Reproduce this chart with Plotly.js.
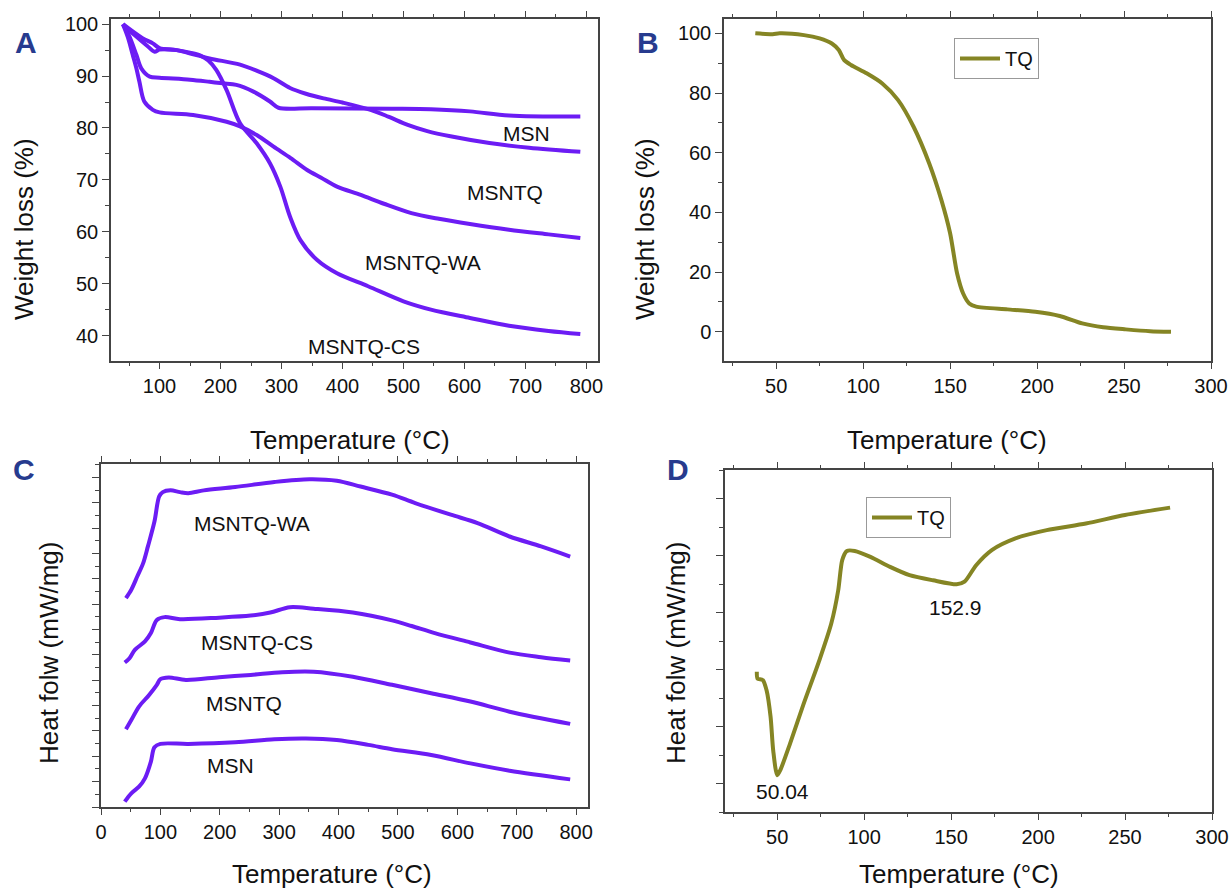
<!DOCTYPE html>
<html>
<head>
<meta charset="utf-8">
<script src="https://cdn.plot.ly/plotly-3.0.1.min.js"></script>
<style>html,body{margin:0;padding:0;background:#fff;}#plot{width:1230px;height:892px;}</style>
</head>
<body>
<div id="plot"></div>
<script>
// ---- Panel A: TGA of nanoparticles ----
const aMsnX = [40, 50, 62, 70, 84, 100, 150, 182, 204, 226, 254, 281, 295, 350, 480, 545, 609, 673, 790];
const aMsnY = [100, 97.8, 94.1, 91.5, 89.9, 89.7, 89.3, 88.9, 88.6, 88.3, 87.0, 85.1, 83.9, 83.8, 83.7, 83.6, 83.2, 82.4, 82.2];
const aMsntqX = [40, 60, 80, 92, 100, 128, 149, 182, 232, 260, 287, 314, 340, 369, 400, 446, 475, 507, 539, 577, 641, 706, 790];
const aMsntqY = [100, 97.8, 95.8, 94.7, 95.1, 95.0, 94.4, 93.4, 92.2, 91.0, 89.6, 87.7, 86.6, 85.7, 84.9, 83.5, 82.2, 80.6, 79.4, 78.4, 77.1, 76.2, 75.4];
const aWaX = [40, 48, 56, 62, 67, 75, 89, 100, 155, 210, 232, 260, 287, 315, 342, 365, 391, 430, 468, 513, 558, 609, 673, 738, 790];
const aWaY = [100, 97.5, 94.1, 91.5, 88.9, 85.1, 83.5, 83.0, 82.5, 81.2, 80.3, 78.6, 76.4, 74.2, 71.9, 70.4, 68.7, 67.1, 65.4, 63.6, 62.5, 61.5, 60.4, 59.5, 58.8];
const aCsX = [40, 72, 89, 100, 128, 150, 168, 180, 193, 210, 232, 259, 281, 298, 314, 331, 358, 391, 442, 500, 545, 609, 673, 738, 790];
const aCsY = [100, 97.3, 96.3, 95.4, 95.0, 94.5, 93.9, 93.0, 91.2, 87.3, 80.9, 77.1, 73.2, 68.7, 62.9, 58.4, 54.6, 52.0, 49.5, 46.6, 45.0, 43.4, 41.9, 40.9, 40.3];

// ---- Panel B: TGA of TQ ----
const bTqX = [38, 48, 52, 66, 75, 82, 86, 89, 93, 102, 111, 120, 129, 138, 145, 150, 154, 157.5, 161, 165, 183, 199, 213, 226, 238, 251, 265, 277];
const bTqY = [100, 99.7, 100, 99.4, 98.3, 96.6, 94.4, 91.1, 89.4, 86.6, 83.2, 77.7, 68.7, 56.4, 44.1, 33, 19.6, 12.8, 9.5, 8.4, 7.5, 6.7, 5.3, 2.8, 1.5, 0.8, 0.2, 0];

// ---- Panel C: DSC of nanoparticles (arbitrary offset units) ----
const cMsnX = [40, 51, 64, 74, 84, 90, 100, 147, 226, 292, 345, 397, 450, 490, 556, 622, 688, 790];
const cMsnY = [0.21, 0.54, 0.8, 1.13, 1.79, 2.36, 2.49, 2.49, 2.55, 2.67, 2.70, 2.64, 2.45, 2.28, 2.05, 1.72, 1.43, 1.09];
const cMsntqX = [42, 51, 64, 81, 94, 100, 114, 143, 199, 252, 305, 358, 424, 490, 556, 622, 688, 790];
const cMsntqY = [3.07, 3.43, 3.96, 4.42, 4.82, 5.04, 5.11, 5.01, 5.12, 5.21, 5.32, 5.34, 5.14, 4.82, 4.49, 4.16, 3.76, 3.28];
const cCsX = [40, 48, 57, 74, 84, 94, 107, 133, 199, 252, 285, 318, 358, 424, 490, 523, 562, 622, 688, 741, 790];
const cCsY = [5.70, 5.87, 6.2, 6.53, 6.86, 7.38, 7.49, 7.41, 7.47, 7.55, 7.67, 7.88, 7.82, 7.67, 7.36, 7.14, 6.86, 6.49, 6.09, 5.91, 5.78];
const cWaX = [42, 51, 61, 71, 79, 90, 98, 104, 117, 133, 147, 173, 226, 292, 351, 397, 437, 490, 529, 589, 634, 688, 741, 790];
const cWaY = [8.24, 8.57, 9.09, 9.62, 10.28, 11.26, 12.25, 12.42, 12.49, 12.42, 12.38, 12.49, 12.62, 12.82, 12.93, 12.87, 12.64, 12.32, 11.99, 11.53, 11.2, 10.67, 10.28, 9.88];

// ---- Panel D: DSC of TQ ----
const dTqX = [38.3, 38.7, 41.7, 43.9, 46.2, 47.7, 50, 51.8, 57.4, 65.3, 74.3, 81.1, 85.1, 87.4, 90.1, 94.6, 103.6, 114.9, 126.1, 139.6, 153.2, 157.7, 164.4, 173.4, 187, 205, 227.5, 250, 275.9];
const dTqY = [3.92, 3.68, 3.63, 3.27, 2.34, 1.17, 0.29, 0.47, 1.40, 2.81, 4.33, 5.61, 6.78, 7.84, 8.16, 8.16, 7.95, 7.60, 7.31, 7.13, 6.99, 7.08, 7.66, 8.19, 8.60, 8.89, 9.12, 9.42, 9.68];

// ---- Labels ----
const sampleNames = ['MSN', 'MSNTQ', 'MSNTQ-WA', 'MSNTQ-CS'];
const aLabelX = [702, 667, 532, 435];
const aLabelY = [79, 67.6, 54, 37.9];
const cLabelX = [218, 240, 255, 262];
const cLabelY = [1.62, 4.09, 11.17, 6.49];
const peakLabels = ['50.04', '152.9'];
const peakX = [52.9, 152.7];
const peakY = [-0.29, 6.18];
const xTitle = 'Temperature (°C)';
const yTitleTGA = 'Weight loss (%)';
const yTitleDSC = 'Heat folw (mW/mg)';
const panelLetters = ['A', 'B', 'C', 'D'];

const PURPLE = '#6c1cf4';
const OLIVE = '#858524';
const FONT = 'Liberation Sans, Arial, sans-serif';
const AXC = '#444';

function tr(x, y, xa, ya, color, name, smooth, legend, show) {
  return {x: x, y: y, xaxis: xa, yaxis: ya, type: 'scatter', mode: 'lines', name: name,
    line: {color: color, width: 4, shape: 'spline', smoothing: smooth},
    showlegend: !!show, legend: legend || 'legend', hoverinfo: 'x+y+name'};
}

const data = [
  tr(aMsnX, aMsnY, 'x', 'y', PURPLE, 'MSN', 0.9),
  tr(aMsntqX, aMsntqY, 'x', 'y', PURPLE, 'MSNTQ', 0.9),
  tr(aWaX, aWaY, 'x', 'y', PURPLE, 'MSNTQ-WA', 0.9),
  tr(aCsX, aCsY, 'x', 'y', PURPLE, 'MSNTQ-CS', 0.9),
  tr(bTqX, bTqY, 'x2', 'y2', OLIVE, 'TQ', 0.7, 'legend', true),
  tr(cMsnX, cMsnY, 'x3', 'y3', PURPLE, 'MSN', 0.9),
  tr(cMsntqX, cMsntqY, 'x3', 'y3', PURPLE, 'MSNTQ', 0.9),
  tr(cCsX, cCsY, 'x3', 'y3', PURPLE, 'MSNTQ-CS', 0.9),
  tr(cWaX, cWaY, 'x3', 'y3', PURPLE, 'MSNTQ-WA', 0.9),
  tr(dTqX, dTqY, 'x4', 'y4', OLIVE, 'TQ', 0.7, 'legend2', true)
];

function W(px) { return px / 1230; }
function H(py) { return 1 - py / 892; }

function xax(l, r, range, dtick, minor, anchor) {
  return {domain: [W(l), W(r)], range: range, anchor: anchor, dtick: dtick, tick0: 0,
    showgrid: false, zeroline: false, showline: true, linecolor: AXC, linewidth: 1.5,
    mirror: 'ticks', ticks: 'outside', ticklen: 6, tickwidth: 1.2, tickcolor: AXC,
    minor: {dtick: minor, tick0: 0, ticks: 'outside', ticklen: 3.5, tickwidth: 1, tickcolor: AXC, showgrid: false},
    tickfont: {family: FONT, size: 20, color: '#111'}, fixedrange: true};
}
function yax(b, t, range, dtick, minor, anchor, labels, tick0) {
  return {domain: [H(b), H(t)], range: range, anchor: anchor, dtick: dtick, tick0: tick0 || 0,
    showgrid: false, zeroline: false, showline: true, linecolor: AXC, linewidth: 1.5,
    mirror: true, ticks: 'outside', ticklen: 7, tickwidth: 1.2, tickcolor: AXC,
    minor: {dtick: minor, tick0: tick0 || 0, ticks: 'outside', ticklen: 4, tickwidth: 1, tickcolor: AXC, showgrid: false},
    showticklabels: labels, tickfont: {family: FONT, size: 20, color: '#111'}, fixedrange: true};
}

const annotations = [];
function ann(text, x, y, xref, yref, opts) {
  annotations.push(Object.assign({text: text, x: x, y: y, xref: xref, yref: yref, showarrow: false,
    font: {family: FONT, size: 21, color: '#111'}, xanchor: 'center', yanchor: 'middle'}, opts || {}));
}
sampleNames.forEach((n, i) => ann(n, aLabelX[i], aLabelY[i], 'x', 'y'));
sampleNames.forEach((n, i) => ann(n, cLabelX[i], cLabelY[i], 'x3', 'y3'));
peakLabels.forEach((n, i) => ann(n, peakX[i], peakY[i], 'x4', 'y4'));
// axis titles
const titleFont = {family: FONT, size: 26, color: '#111'};
ann(xTitle, W(350), H(440), 'paper', 'paper', {font: titleFont});
ann(xTitle, W(947), H(440), 'paper', 'paper', {font: titleFont});
ann(xTitle, W(332), H(891), 'paper', 'paper', {font: titleFont, yanchor: 'bottom'});
ann(xTitle, W(959), H(891), 'paper', 'paper', {font: titleFont, yanchor: 'bottom'});
ann(yTitleTGA, W(24), H(229), 'paper', 'paper', {font: titleFont, textangle: -90});
ann(yTitleTGA, W(645), H(229), 'paper', 'paper', {font: titleFont, textangle: -90});
ann(yTitleDSC, W(49), H(653), 'paper', 'paper', {font: titleFont, textangle: -90});
ann(yTitleDSC, W(676), H(653), 'paper', 'paper', {font: titleFont, textangle: -90});
// panel letters
const letterFont = {family: FONT, size: 30, color: '#273b8e', weight: 'bold'};
const letterPos = [[26, 43], [648, 42], [24, 470], [678, 470]];
panelLetters.forEach((l, i) => ann('<b>' + l + '</b>', W(letterPos[i][0]), H(letterPos[i][1]), 'paper', 'paper', {font: letterFont}));

const layout = {
  width: 1230, height: 892,
  margin: {l: 0, r: 0, t: 0, b: 0},
  paper_bgcolor: '#fff', plot_bgcolor: '#fff',
  font: {family: FONT, color: '#111'},
  xaxis: xax(111, 598, [20.4, 819], 100, 50, 'y'),
  yaxis: yax(361, 19, [35.1, 101], 10, 5, 'x', true),
  xaxis2: xax(724, 1211, [20, 300], 50, 25, 'y2'),
  yaxis2: yax(361, 19, [-9.8, 104.8], 20, 10, 'x2', true),
  xaxis3: xax(101, 588, [0, 820], 100, 50, 'y3'),
  yaxis3: yax(807, 464, [0, 13.53], 1, 0.5, 'x3', false),
  xaxis4: xax(725, 1212, [20, 300], 50, 25, 'y4'),
  yaxis4: yax(812, 470, [-1, 11], 2, 1, 'x4', false),
  legend: {x: W(954), y: H(38), xanchor: 'left', yanchor: 'top', bgcolor: '#fff', bordercolor: '#999', borderwidth: 1,
    font: {family: FONT, size: 20, color: '#111'}, itemwidth: 40},
  legend2: {x: W(866), y: H(497), xanchor: 'left', yanchor: 'top', bgcolor: '#fff', bordercolor: '#999', borderwidth: 1,
    font: {family: FONT, size: 20, color: '#111'}, itemwidth: 40},
  annotations: annotations,
  showlegend: true
};

Plotly.newPlot('plot', data, layout, {displayModeBar: false, staticPlot: false, responsive: false});
</script>
</body>
</html>
